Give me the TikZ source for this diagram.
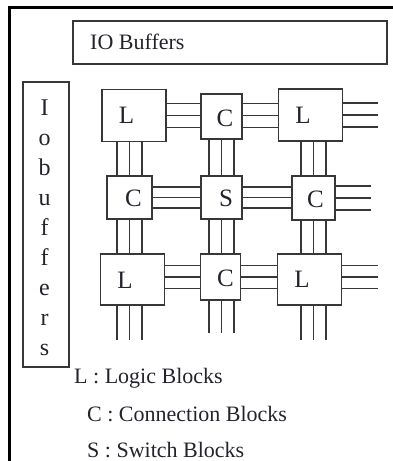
\documentclass[tikz,border=0pt]{standalone}
\usepackage{fontspec}
\setmainfont{Liberation Serif}
\usetikzlibrary{calc}
\definecolor{ink}{RGB}{35,35,45}
\definecolor{edge}{RGB}{55,55,55}
\begin{document}
\begin{tikzpicture}[x=1pt,y=-1pt,
  blk/.style={draw=edge, line width=1.8pt, inner sep=0pt, outer sep=0pt},
  lblk/.style={blk, minimum width=64pt, minimum height=52pt},
  cblk/.style={blk, minimum width=43pt, minimum height=44pt},
  btxt/.style={inner sep=0pt, text=ink, font=\fontsize{25}{25}\selectfont},
  wire/.style={draw=edge, line width=1.8pt},
  vtxt/.style={inner sep=0pt, anchor=base, text=ink, font=\fontsize{24}{24}\selectfont},
  ltxt/.style={inner sep=0pt, anchor=base west, text=ink, font=\fontsize{22}{22}\selectfont}]
\useasboundingbox (0,0) rectangle (393,461);
% outer frame (partial)
\draw[line width=3pt, black] (9,461) -- (9,7.5) -- (393,7.5);
% IO buffers boxes
\node[blk, minimum width=314pt, minimum height=43pt] (iotop) at (230,42.5) {};
\node[ltxt] (iotoptxt) at (90,49) {IO Buffers};
\node[blk, minimum width=46pt, minimum height=285pt] (ioleft) at (46,224.5) {};
\foreach \ch [count=\i] in {I,o,b,u,f,f,e,r,s}
  \node[vtxt] (v\i) at (44.5,85+30*\i) {\ch};
% blocks
\node[lblk] (L1)  at (134,115.5) {};
\node[cblk, minimum width=41pt, minimum height=45pt] (C1) at (221.5,116.5) {};
\node[lblk] (L3)  at (310.5,115) {};
\node[cblk, minimum width=45pt, minimum height=43pt] (C21) at (129.5,197.5) {};
\node[cblk, minimum width=41pt, minimum height=43pt] (S) at (221.5,197.5) {};
\node[cblk] (C23) at (313.5,198) {};
\node[lblk, minimum height=51pt] (L31) at (132.5,279.5) {};
\node[cblk, minimum width=40pt, minimum height=46pt] (C32) at (220.5,277) {};
\node[lblk, minimum height=51pt] (L33) at (309.5,279.5) {};
% block letters
\node[btxt] (tL1)  at ($(L1.center)+(-7.5,0)$) {L};
\node[btxt] (tC1)  at ($(C1.center)+(3.5,1.5)$) {C};
\node[btxt] (tL3)  at ($(L3.center)+(-7.5,0)$) {L};
\node[btxt] (tC21) at ($(C21.center)+(4,1)$) {C};
\node[btxt] (tS)   at ($(S.center)+(4.5,1)$) {S};
\node[btxt] (tC23) at ($(C23.center)+(2,1)$) {C};
\node[btxt] (tL31) at ($(L31.center)+(-7.5,1)$) {L};
\node[btxt] (tC32) at ($(C32.center)+(5,1)$) {C};
\node[btxt] (tL33) at ($(L33.center)+(-7.5,0)$) {L};
% free ends
\coordinate (e1) at (378,115);
\coordinate (e2) at (371,199);
\coordinate (e3) at (378,277);
\coordinate (b1) at (0,340);
\coordinate (b2) at (0,333);
\coordinate (b3) at (0,340);
% horizontal wires
\foreach \d in {-12,0,12} {
  \draw[wire] ($(L1.east)+(0,\d)$) -- ($(L1.east -| C1.west)+(0,\d)$);
  \draw[wire] ($(L1.east -| C1.east)+(0,\d)$) -- ($(L1.east -| L3.west)+(0,\d)$);
  \draw[wire] ($(L3.east)+(0,\d)$) -- ($(L3.east -| e1)+(0,\d)$);
  \draw[wire] ($(C23.east)+(0,\d)$) -- ($(C23.east -| e2)+(0,\d)$);
}
\foreach \d in {-10.5,0,10.5} {
  \draw[wire] ($(S.center -| C21.east)+(0,\d)$) -- ($(S.west)+(0,\d)$);
  \draw[wire] ($(S.east)+(0,\d)$) -- ($(S.center -| C23.west)+(0,\d)$);
}
\foreach \d in {-11.5,0,11.5} {
  \draw[wire] ($(C32.center -| L31.east)+(0,\d)$) -- ($(C32.west)+(0,\d)$);
  \draw[wire] ($(C32.east)+(0,\d)$) -- ($(C32.center -| L33.west)+(0,\d)$);
  \draw[wire] ($(C32.center -| L33.east)+(0,\d)$) -- ($(C32.center -| e3)+(0,\d)$);
}
% vertical wires
\foreach \d in {-12.5,0,12.5} {
  \draw[wire] ($(C21.center |- L1.south)+(\d,0)$) -- ($(C21.north)+(\d,0)$);
  \draw[wire] ($(C21.south)+(\d,0)$) -- ($(C21.center |- L31.north)+(\d,0)$);
  \draw[wire] ($(C21.center |- L31.south)+(\d,0)$) -- ($(C21.center |- b1)+(\d,0)$);
  \draw[wire] ($(S.center |- C1.south)+(\d,0)$) -- ($(S.north)+(\d,0)$);
  \draw[wire] ($(S.south)+(\d,0)$) -- ($(S.center |- C32.north)+(\d,0)$);
  \draw[wire] ($(S.center |- C32.south)+(\d,0)$) -- ($(S.center |- b2)+(\d,0)$);
  \draw[wire] ($(C23.center |- L3.south)+(\d,0)$) -- ($(C23.north)+(\d,0)$);
  \draw[wire] ($(C23.south)+(\d,0)$) -- ($(C23.center |- L33.north)+(\d,0)$);
  \draw[wire] ($(C23.center |- L33.south)+(\d,0)$) -- ($(C23.center |- b3)+(\d,0)$);
}
% legend
\node[ltxt] (lg1) at (74,383) {L : Logic Blocks};
\node[ltxt] (lg2) at (87,421.5) {C : Connection Blocks};
\node[ltxt] (lg3) at (87,457) {S : Switch Blocks};
\end{tikzpicture}
\end{document}
